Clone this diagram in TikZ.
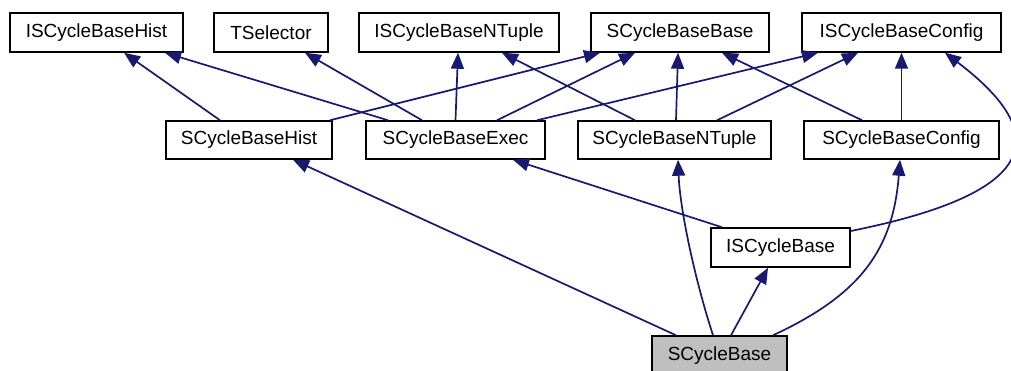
\documentclass[tikz,border=0pt]{standalone}
\usepackage{fontspec}
\setmainfont{Liberation Sans}
\usetikzlibrary{arrows.meta}
\definecolor{edgeblue}{HTML}{191970}
\definecolor{boxgray}{HTML}{BFBFBF}
\tikzset{
  cls/.style={draw=black, line width=1.5pt, fill=white, inner sep=0pt, minimum height=39pt,
    font=\fontsize{19}{22}\selectfont},
  cur/.style={cls, fill=boxgray},
  inh/.style={draw=edgeblue, line width=1.7pt, -{Triangle[length=16pt,width=13pt]}}
}
\begin{document}
\begin{tikzpicture}[x=1pt,y=-1pt]
\useasboundingbox (0,0) rectangle (1011,371);
% top row
\node[cls, minimum width=173pt] (ISCBHist) at (96.5,32.5) {ISCycleBaseHist};
\node[cls, minimum width=114pt] (TSel) at (271,32.5) {TSelector};
\node[cls, minimum width=200pt] (ISCBNT) at (459,32.5) {ISCycleBaseNTuple};
\node[cls, minimum width=178pt] (SCBB) at (680,32.5) {SCycleBaseBase};
\node[cls, minimum width=199pt] (ISCBC) at (901.5,32.5) {ISCycleBaseConfig};
% middle row
\node[cls, minimum width=166pt, minimum height=38pt] (SCBHist) at (249,140) {SCycleBaseHist};
\node[cls, minimum width=179pt, minimum height=38pt] (SCBExec) at (455.5,140) {SCycleBaseExec};
\node[cls, minimum width=193pt, minimum height=38pt] (SCBNT) at (674.5,140) {SCycleBaseNTuple};
\node[cls, minimum width=195pt, minimum height=38pt] (SCBC) at (901.5,140) {SCycleBaseConfig};
% lower
\node[cls, minimum width=139pt] (ISCB) at (780.5,247.5) {ISCycleBase};
\node[cur, minimum width=135pt] (SCB) at (719.5,355.5) {SCycleBase};
% edges
\draw[inh] ([xshift=-29pt]SCBHist.north) -- ([xshift=27.5pt]ISCBHist.south);
\draw[inh] ([xshift=-67.5pt]SCBExec.north) -- ([xshift=68.5pt]ISCBHist.south);
\draw[inh] ([xshift=-33.5pt]SCBExec.north) -- ([xshift=34pt]TSel.south);
\draw[inh] ([xshift=0pt]SCBExec.north) -- ([xshift=-1pt]ISCBNT.south);
\draw[inh] ([xshift=81pt]SCBHist.north) -- ([xshift=-80pt]SCBB.south);
\draw[inh] ([xshift=41.5pt]SCBExec.north) -- ([xshift=-45pt]SCBB.south);
\draw[inh] ([xshift=81.5pt]SCBExec.north) -- ([xshift=-83.5pt]ISCBC.south);
\draw[inh] ([xshift=-39.5pt]SCBNT.north) -- ([xshift=43pt]ISCBNT.south);
\draw[inh] ([xshift=1.5pt]SCBNT.north) -- ([xshift=-2pt]SCBB.south);
\draw[inh] ([xshift=42.5pt]SCBNT.north) -- ([xshift=-43.5pt]ISCBC.south);
\draw[inh] ([xshift=-39.5pt]SCBC.north) -- ([xshift=42pt]SCBB.south);
\draw[inh] (SCBC.north) -- (ISCBC.south);
\draw[inh] ([yshift=16.5pt]ISCB.east) .. controls (1030,195) and (1060,140) .. ([xshift=43.5pt]ISCBC.south);
\draw[inh] ([xshift=-58.5pt]ISCB.north) -- ([xshift=57.5pt]SCBExec.south);
\draw[inh] ([xshift=-43.5pt]SCB.north) -- ([xshift=44pt]SCBHist.south);
\draw[inh] ([xshift=-6.5pt]SCB.north) .. controls (695,280) and (680,210) .. ([xshift=3.5pt]SCBNT.south);
\draw[inh] ([xshift=11.5pt]SCB.north) -- ([xshift=-12.5pt]ISCB.south);
\draw[inh] ([xshift=53.5pt]SCB.north) .. controls (860,295) and (893,250) .. ([xshift=-1.5pt]SCBC.south);
\end{tikzpicture}
\end{document}
